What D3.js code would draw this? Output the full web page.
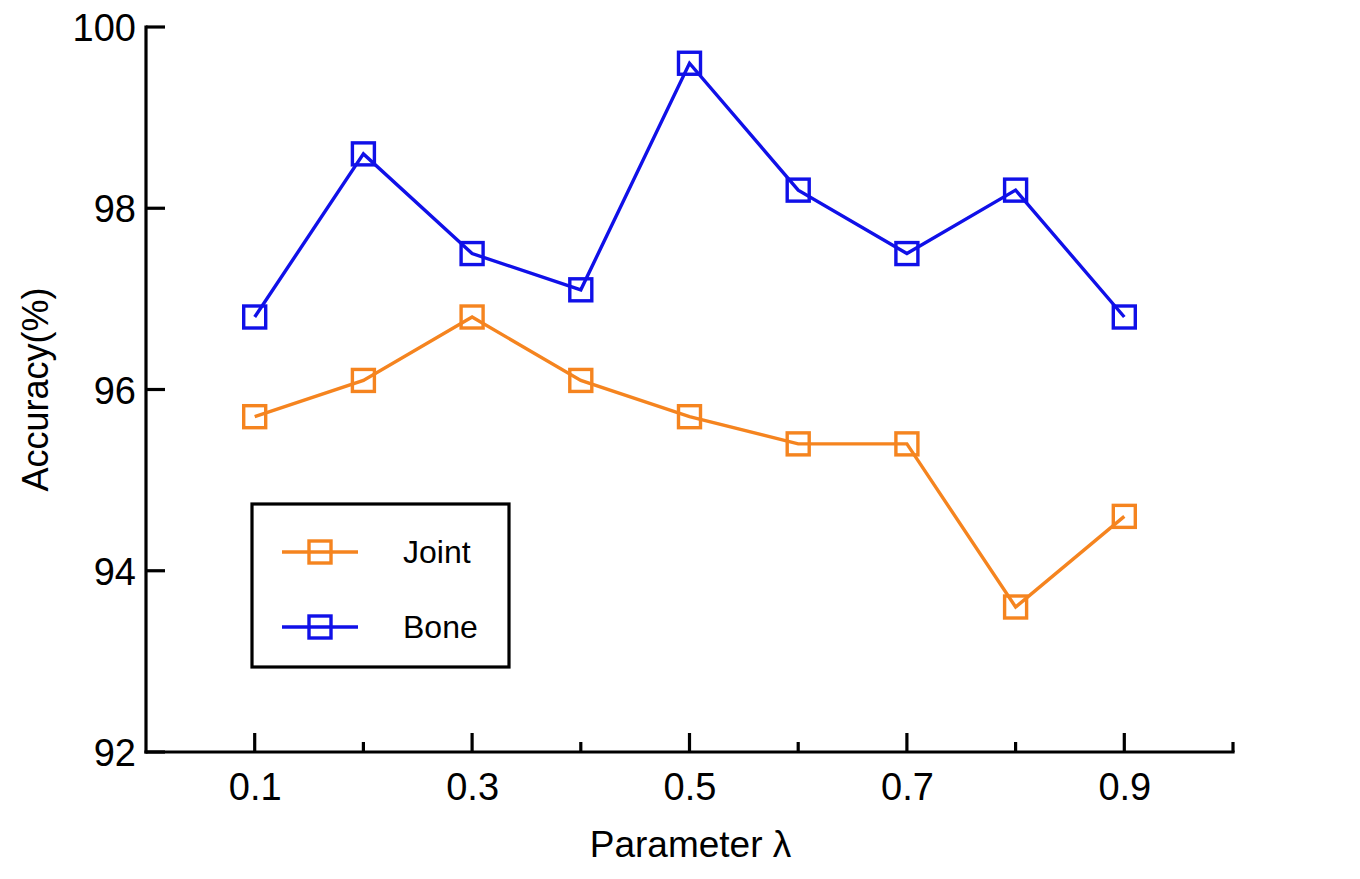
<!DOCTYPE html>
<html>
<head>
<meta charset="utf-8">
<script src="https://cdn.jsdelivr.net/npm/d3@7"></script>
<style>
  html, body { margin: 0; padding: 0; background: #fff; }
  svg { display: block; font-family: "Liberation Sans", Arial, sans-serif; }
</style>
</head>
<body>
<svg id="chart" width="1360" height="879"></svg>
<script>
// ---- data ----
const lambdas = [0.1, 0.2, 0.3, 0.4, 0.5, 0.6, 0.7, 0.8, 0.9];
const jointAcc = [95.7, 96.1, 96.8, 96.1, 95.7, 95.4, 95.4, 93.6, 94.6];
const boneAcc  = [96.8, 98.6, 97.5, 97.1, 99.6, 98.2, 97.5, 98.2, 96.8];
const seriesNames = ["Joint", "Bone"];
const xMajorTicks = [0.1, 0.3, 0.5, 0.7, 0.9];
const xMinorTicks = [0.2, 0.4, 0.6, 0.8, 1.0];
const yTicks = [92, 94, 96, 98, 100];

// ---- layout ----
const colors = { Joint: "#f5841f", Bone: "#1010e8" };
const mLeft = 146, mTop = 27, mRight = 1233, mBottom = 752;

const svg = d3.select("#chart");
const x = d3.scaleLinear().domain([0, 1]).range([mLeft, mRight]);
const y = d3.scaleLinear().domain([92, 100]).range([mBottom, mTop]);

const series = [
  { name: "Joint", values: jointAcc },
  { name: "Bone", values: boneAcc }
];

// axes
const axisColor = "#000";
const xAxisG = svg.append("g").attr("transform", `translate(0,${mBottom})`);
xAxisG.call(d3.axisBottom(x).tickValues(xMajorTicks).tickSize(0).tickPadding(0).tickFormat(d3.format(".1f")));
xAxisG.select(".domain").remove();
xAxisG.selectAll(".tick text")
  .attr("y", 48).attr("dy", 0)
  .style("font-size", "38px").style("fill", "#000");
xAxisG.selectAll(".majorTick").data(xMajorTicks).enter().append("line")
  .attr("x1", d => x(d)).attr("x2", d => x(d))
  .attr("y1", 0).attr("y2", -19)
  .attr("stroke", axisColor).attr("stroke-width", 3.2);
xAxisG.selectAll(".minorTick").data(xMinorTicks).enter().append("line")
  .attr("x1", d => x(d)).attr("x2", d => x(d))
  .attr("y1", 0).attr("y2", -10)
  .attr("stroke", axisColor).attr("stroke-width", 3.2);
xAxisG.append("line")
  .attr("x1", mLeft - 1.6).attr("x2", mRight + 1.6).attr("y1", 0).attr("y2", 0)
  .attr("stroke", axisColor).attr("stroke-width", 3.2);

const yAxisG = svg.append("g").attr("transform", `translate(${mLeft},0)`);
yAxisG.call(d3.axisLeft(y).tickValues(yTicks).tickSize(0).tickPadding(10).tickFormat(d3.format("d")));
yAxisG.select(".domain").remove();
yAxisG.selectAll(".tick text")
  .attr("dy", "0.36em")
  .style("font-size", "38px").style("fill", "#000");
yAxisG.selectAll(".majorTickY").data(yTicks).enter().append("line")
  .attr("x1", 0).attr("x2", 19)
  .attr("y1", d => y(d)).attr("y2", d => y(d))
  .attr("stroke", axisColor).attr("stroke-width", 3.2);
yAxisG.append("line")
  .attr("x1", 0).attr("x2", 0).attr("y1", mTop - 1.6).attr("y2", mBottom + 1.6)
  .attr("stroke", axisColor).attr("stroke-width", 3.2);

// axis titles
svg.append("text")
  .attr("x", (mLeft + mRight) / 2 + 1).attr("y", 857)
  .attr("text-anchor", "middle")
  .style("font-size", "37px").style("fill", "#000")
  .text("Parameter λ");
svg.append("text")
  .attr("transform", `translate(48,${y(96)}) rotate(-90)`)
  .attr("text-anchor", "middle")
  .style("font-size", "36px").style("fill", "#000")
  .text("Accuracy(%)");

// lines and markers
const line = d3.line().x((d, i) => x(lambdas[i])).y(d => y(d));
const msize = 22;
series.forEach(s => {
  svg.append("path")
    .datum(s.values)
    .attr("d", line)
    .attr("fill", "none")
    .attr("stroke", colors[s.name])
    .attr("stroke-width", 3.4)
    .attr("stroke-linejoin", "miter");
  svg.selectAll(null).data(s.values).enter().append("rect")
    .attr("x", (d, i) => x(lambdas[i]) - msize / 2)
    .attr("y", d => y(d) - msize / 2)
    .attr("width", msize).attr("height", msize)
    .attr("fill", "none")
    .attr("stroke", colors[s.name])
    .attr("stroke-width", 3.4);
});

// legend
const lg = svg.append("g");
lg.append("rect")
  .attr("x", 252).attr("y", 504).attr("width", 257).attr("height", 163)
  .attr("fill", "#fff").attr("stroke", "#000").attr("stroke-width", 3.2);
seriesNames.forEach((name, i) => {
  const cy = 552 + i * 75;
  lg.append("line")
    .attr("x1", 282).attr("x2", 358).attr("y1", cy).attr("y2", cy)
    .attr("stroke", colors[name]).attr("stroke-width", 3.4);
  lg.append("rect")
    .attr("x", 320 - msize / 2).attr("y", cy - msize / 2)
    .attr("width", msize).attr("height", msize)
    .attr("fill", "none").attr("stroke", colors[name]).attr("stroke-width", 3.4);
  lg.append("text")
    .attr("x", 403).attr("y", cy + 11)
    .style("font-size", "32px").style("fill", "#000")
    .text(name);
});
</script>
</body>
</html>
